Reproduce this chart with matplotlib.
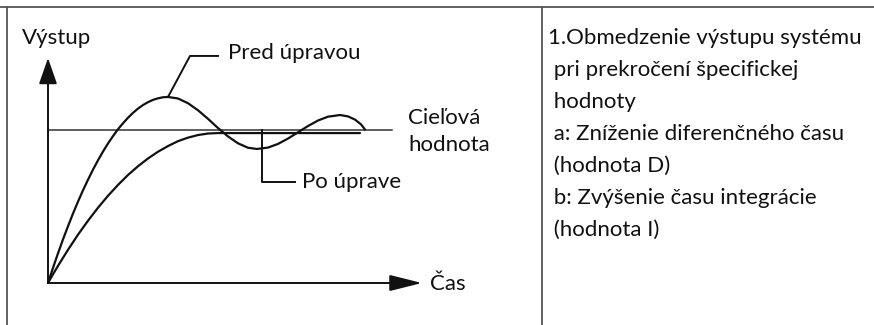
import matplotlib.pyplot as plt
from matplotlib.lines import Line2D

plt.rcParams['font.family'] = ['Lato', 'DejaVu Sans']

# response curves (time units, output relative to target = 1.0)
pred_t = [0, 0.5, 1.0, 1.5, 2.0, 2.5, 3.0, 3.5, 4.0, 4.5, 5.0, 5.5, 6.0, 6.5, 7.0, 7.5,
          8.0, 8.5, 9.0, 9.5, 10.0, 10.5, 11.0, 11.5, 12.0, 13.0, 14.0, 15.0, 16.0, 17.0,
          18.0, 19.0, 20.0, 20.9, 22.0, 23.0, 24.0, 25.0, 26.0, 27.0, 28.0, 29.2, 30.0,
          30.7, 31.3, 31.7]
pred_y = [0, 0.099, 0.194, 0.285, 0.371, 0.454, 0.532, 0.606, 0.675, 0.741, 0.802, 0.859,
          0.912, 0.960, 1.005, 1.044, 1.080, 1.112, 1.140, 1.163, 1.182, 1.197, 1.207,
          1.214, 1.216, 1.206, 1.175, 1.129, 1.073, 1.013, 0.958, 0.913, 0.884, 0.876,
          0.885, 0.909, 0.944, 0.985, 1.026, 1.062, 1.087, 1.098, 1.089, 1.068, 1.037,
          1.003]
po_t = [0, 0.5, 1.0, 2.0, 3.0, 4.0, 5.0, 6.0, 7.0, 8.0, 9.0, 10.0, 11.0, 12.0, 13.0,
        14.0, 15.0, 16.0, 17.0, 31.2]
po_y = [0, 0.057, 0.112, 0.217, 0.316, 0.407, 0.492, 0.570, 0.641, 0.706, 0.763, 0.814,
        0.858, 0.895, 0.927, 0.950, 0.967, 0.977, 0.980, 0.980]
target = 1.0
target_end = 34.4

y_label = 'Výstup'
x_label = 'Čas'
pred_label = 'Pred úpravou'
po_label = 'Po úprave'
target_label = ['Cieľová', 'hodnota']
notes = ['1.Obmedzenie výstupu systému',
         ' pri prekročení špecifickej',
         ' hodnoty',
         ' a: Zníženie diferenčného času',
         ' (hodnota D)',
         ' b: Zvýšenie času integrácie',
         ' (hodnota I)']

W, H = 874, 325
fig = plt.figure(figsize=(W / 100, H / 100), dpi=100)

# origin of the sketch at pixel (48, 283): 10 px per time unit, 153 px per output unit
ox, oy, sx, sy = 48, 283, 10.0, 153.0
ax = fig.add_axes([0, 0, 1, 1])
ax.set_xlim(-ox / sx, (W - ox) / sx)
ax.set_ylim(-(H - oy) / sy, oy / sy)
ax.axis('off')

ink = '#111111'

# axes with arrows
x_end, y_end = 37.4, 1.47
ax.annotate('', xy=(x_end, 0), xytext=(0, 0),
            arrowprops=dict(arrowstyle='-|>,head_length=1.0,head_width=0.25',
                            mutation_scale=20, lw=1.4, color=ink, shrinkA=0, shrinkB=0))
ax.annotate('', xy=(0, y_end), xytext=(0, 0),
            arrowprops=dict(arrowstyle='-|>,head_length=0.8,head_width=0.28',
                            mutation_scale=20, lw=1.4, color=ink, shrinkA=0, shrinkB=0))

ax.plot([0, target_end], [target, target], color='#333333', lw=1.1)
ax.plot(pred_t, pred_y, color=ink, lw=1.6, solid_capstyle='round', solid_joinstyle='round')
ax.plot(po_t, po_y, color=ink, lw=1.6, solid_capstyle='round', solid_joinstyle='round')

# leader lines
ax.plot([12.0, 14.2, 17.0], [1.216, 1.484, 1.484], color=ink, lw=1.4)
ax.plot([21.4, 21.4, 24.7], [target, 0.66, 0.66], color=ink, lw=1.4)

fs = 16
ax.text(18.0, 1.503, pred_label, fontsize=fs, color=ink, va='center', ha='left')
ax.text(25.4, 0.66, po_label, fontsize=fs, color=ink, va='center', ha='left')
ax.text(36.0, 1.078, target_label[0], fontsize=fs, color=ink, va='center', ha='left')
ax.text(36.0, 0.902, target_label[1], fontsize=fs, color=ink, va='center', ha='left')
ax.text(-2.6, 1.601, y_label, fontsize=fs, color=ink, va='center', ha='left')
ax.text(38.2, -0.007, x_label, fontsize=fs, color=ink, va='center', ha='left')

# table frame
frame = '#555555'
fig.add_artist(Line2D([0, 1], [1 - 7 / H, 1 - 7 / H], color=frame, lw=1.3))
fig.add_artist(Line2D([7 / W, 7 / W], [0, 1 - 7 / H], color=frame, lw=1.3))
fig.add_artist(Line2D([542 / W, 542 / W], [0, 1 - 7 / H], color=frame, lw=1.3))

for i, line in enumerate(notes):
    fig.text(548 / W, 1 - (38 + 32 * i) / H, line, fontsize=fs, color=ink,
             va='center', ha='left')

fig.savefig('out.png', dpi=100)
